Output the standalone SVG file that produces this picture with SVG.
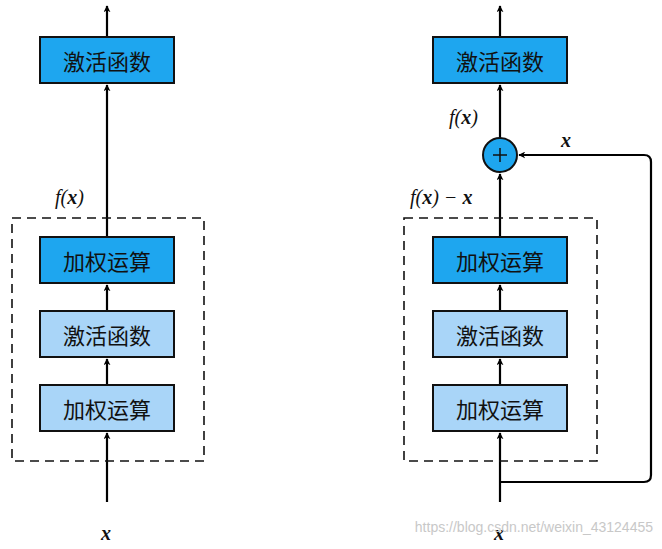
<svg xmlns="http://www.w3.org/2000/svg" width="662" height="549" viewBox="0 0 662 549">
<defs>
<marker id="ah" viewBox="0 0 10 10" refX="9" refY="5" markerWidth="7" markerHeight="7" markerUnits="userSpaceOnUse" orient="auto"><path d="M0,0 L10,5 L0,10 L3,5 Z" fill="#000"/></marker>
<style>
.dk{fill:#1ea6ef;stroke:#111;stroke-width:2}
.lt{fill:#a9d5f8;stroke:#111;stroke-width:2}
.t{font-family:"Noto Sans CJK SC",sans-serif;font-size:22px;fill:#111;text-anchor:middle;dominant-baseline:central}
.m{font-family:"Liberation Serif",serif;font-style:italic;font-size:20px;fill:#111}
.c{stroke:#000;stroke-width:2.2;fill:none}
.d{stroke:#111;stroke-width:1.6;fill:none;stroke-dasharray:9 6}
</style>
</defs>
<rect width="662" height="549" fill="#fff"/>
<g id="connectors">
<path class="c" d="M107,502 V433" marker-end="url(#ah)"/>
<path class="c" d="M107,385 V359" marker-end="url(#ah)"/>
<path class="c" d="M107,311 V285" marker-end="url(#ah)"/>
<path class="c" d="M107,237 V85" marker-end="url(#ah)"/>
<path class="c" d="M107,37 V6" marker-end="url(#ah)"/>
<path class="c" d="M500,502 V433" marker-end="url(#ah)"/>
<path class="c" d="M500,385 V359" marker-end="url(#ah)"/>
<path class="c" d="M500,311 V285" marker-end="url(#ah)"/>
<path class="c" d="M500,237 V174" marker-end="url(#ah)"/>
<path class="c" d="M500,138 V85" marker-end="url(#ah)"/>
<path class="c" d="M500,37 V6" marker-end="url(#ah)"/>
<path class="c" d="M500,482 H644 Q651,482 651,475 V162 Q651,155 644,155 H519" marker-end="url(#ah)"/>
</g>
<rect class="d" x="12" y="218" width="192" height="243"/>
<rect class="d" x="404" y="218" width="193" height="243"/>
<g id="L_top"><rect class="dk" x="40" y="37" width="134" height="46"/><text class="t" x="107" y="60">激活函数</text></g>
<g id="L_w2"><rect class="dk" x="40" y="237" width="134" height="46"/><text class="t" x="107" y="260">加权运算</text></g>
<g id="L_a"><rect class="lt" x="40" y="311" width="134" height="46"/><text class="t" x="107" y="334">激活函数</text></g>
<g id="L_w1"><rect class="lt" x="40" y="385" width="134" height="46"/><text class="t" x="107" y="408">加权运算</text></g>
<g id="R_top"><rect class="dk" x="433" y="37" width="134" height="46"/><text class="t" x="500" y="60">激活函数</text></g>
<g id="R_w2"><rect class="dk" x="433" y="237" width="134" height="46"/><text class="t" x="500" y="260">加权运算</text></g>
<g id="R_a"><rect class="lt" x="433" y="311" width="134" height="46"/><text class="t" x="500" y="334">激活函数</text></g>
<g id="R_w1"><rect class="lt" x="433" y="385" width="134" height="46"/><text class="t" x="500" y="408">加权运算</text></g>
<g id="plus"><circle cx="500" cy="155" r="17" class="dk"/><path d="M493,155 H507 M500,148 V162" stroke="#111" stroke-width="1.5"/></g>
<text class="m" x="55" y="204">f(<tspan font-weight="bold">x</tspan>)</text>
<text class="m" x="101" y="540" font-weight="bold">x</text>
<text class="m" x="449" y="124">f(<tspan font-weight="bold">x</tspan>)</text>
<text class="m" x="410" y="204">f(<tspan font-weight="bold">x</tspan>) − <tspan font-weight="bold">x</tspan></text>
<text class="m" x="561" y="147" font-weight="bold">x</text>
<text class="m" x="494" y="540" font-weight="bold">x</text>
<text x="653" y="532" text-anchor="end" font-family="Liberation Sans,sans-serif" font-size="14" fill="#c8c8c8">https://blog.csdn.net/weixin_43124455</text>
</svg>
